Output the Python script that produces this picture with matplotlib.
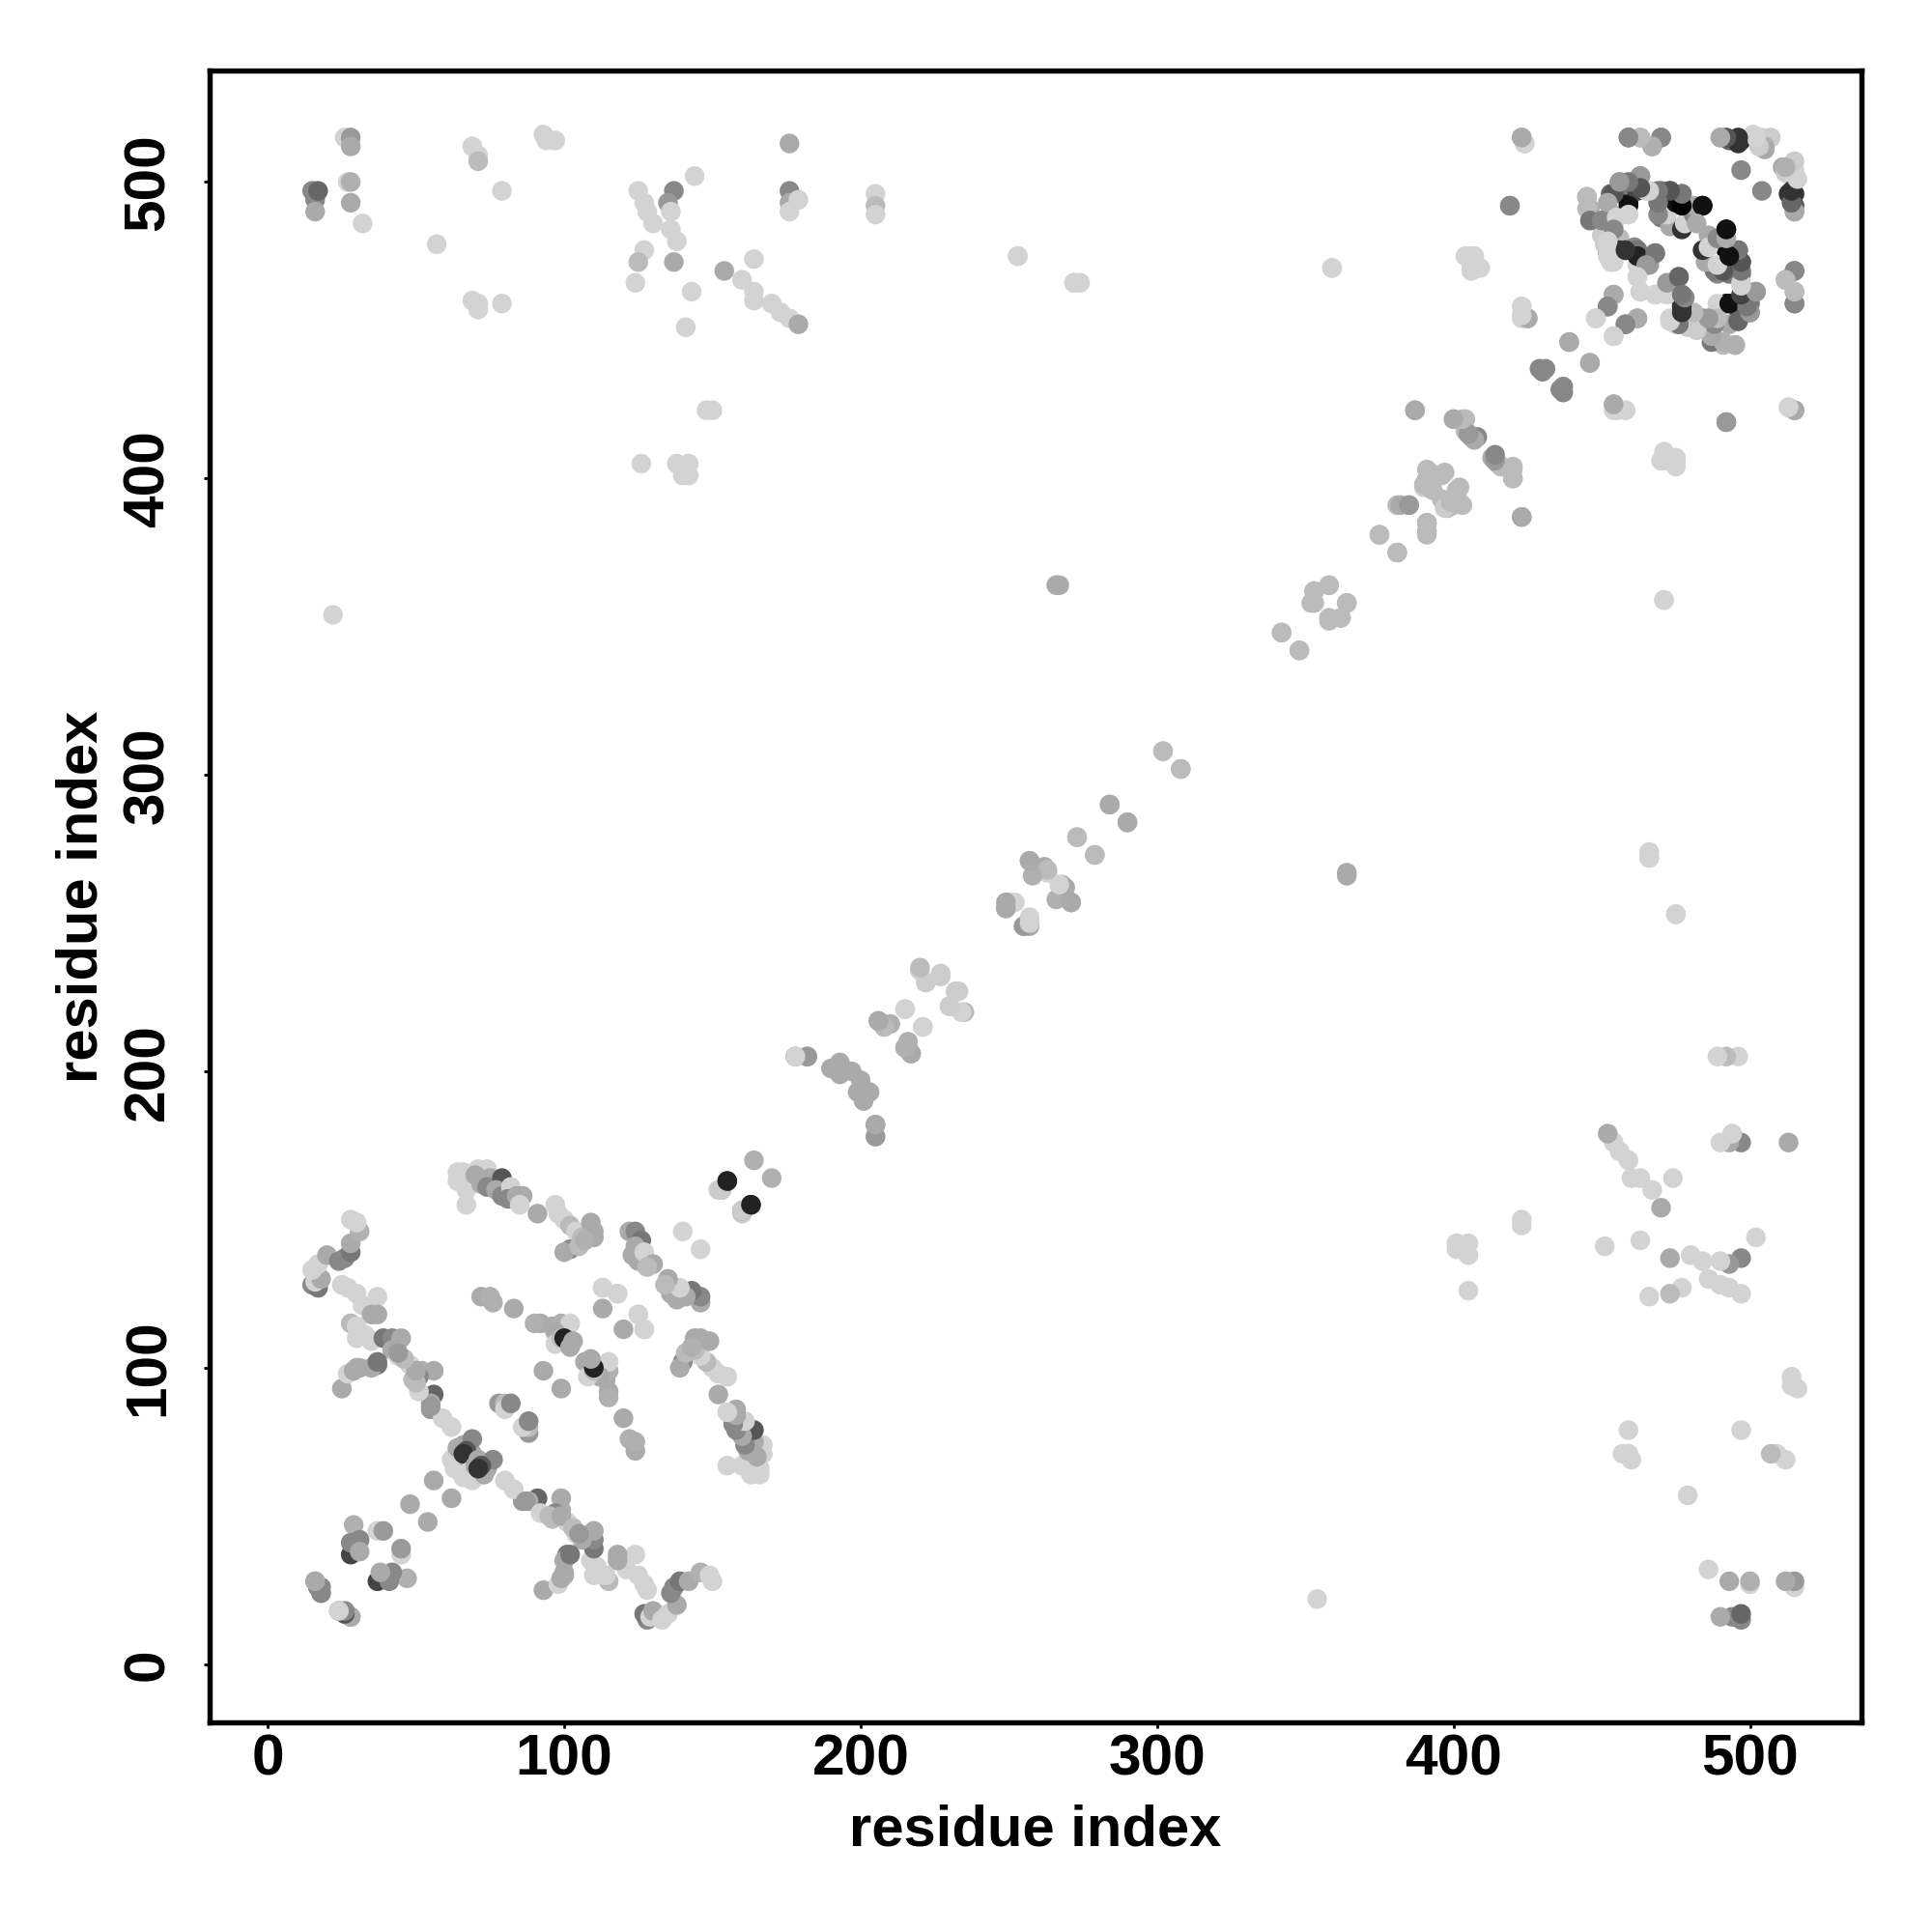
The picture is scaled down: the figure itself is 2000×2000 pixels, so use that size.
import matplotlib
matplotlib.use("Agg")
from matplotlib import pyplot as plt

# contacts as (residue i, residue j, grey level 0-255), i < j, the map is symmetric
far_left = [
    (15, 497, 136), (16, 494, 136), (16, 490, 170), (17, 497, 102), (26, 515, 211), (28, 515, 153),
    (28, 512, 170), (27, 500, 211), (28, 500, 176), (28, 493, 170), (32, 486, 211), (69, 512, 211),
    (71, 509, 211), (71, 507, 187), (79, 497, 211), (57, 479, 211), (69, 460, 211), (71, 459, 211),
    (71, 457, 211), (79, 459, 211), (93, 516, 211), (94, 514, 211), (97, 514, 211), (22, 354, 211),
]
far_mid = [
    (125, 497, 211), (127, 493, 211), (128, 490, 211), (130, 486, 211), (137, 497, 136), (135, 493, 153),
    (136, 490, 211), (144, 502, 211), (136, 484, 211), (138, 480, 211), (137, 473, 170), (127, 477, 211),
    (125, 473, 187), (124, 466, 211), (143, 463, 211), (141, 451, 211), (154, 470, 170), (160, 467, 211),
    (164, 474, 211), (164, 463, 211), (164, 460, 211), (170, 459, 211), (173, 456, 211), (176, 454, 211),
    (179, 452, 170), (176, 513, 170), (176, 497, 136), (176, 493, 170), (176, 490, 211), (179, 494, 211),
    (205, 496, 211), (205, 492, 187), (205, 489, 211), (253, 475, 211), (272, 466, 211), (274, 466, 211),
    (359, 471, 211), (126, 405, 211), (138, 405, 211), (142, 405, 211), (140, 401, 211), (142, 401, 211),
    (148, 423, 211), (150, 423, 211), (266, 364, 170), (267, 364, 170),
]
far_right = [
    (404, 475, 211), (407, 475, 211), (406, 471, 211), (409, 471, 211), (419, 492, 153), (423, 515, 170),
    (424, 513, 211), (423, 458, 211), (423, 454, 211), (425, 454, 170), (387, 423, 170), (454, 425, 170),
    (455, 423, 211), (458, 423, 211), (492, 419, 136), (513, 424, 211), (515, 423, 170), (471, 408, 211),
    (470, 406, 211), (473, 406, 211), (475, 406, 211), (471, 359, 211), (466, 272, 211), (475, 253, 211),
]
sheet_a = [
    (15, 128, 136), (17, 127, 119), (16, 129, 211), (18, 130, 170), (15, 133, 211), (17, 135, 211),
    (20, 138, 170), (24, 136, 136), (26, 137, 136), (28, 139, 119), (28, 142, 170), (31, 146, 176),
    (28, 150, 211), (30, 149, 211),
    (25, 128, 211), (27, 127, 211), (30, 125, 211), (32, 121, 211), (37, 124, 211), (35, 118, 170),
    (37, 118, 170), (28, 115, 187), (30, 114, 211), (30, 110, 211), (33, 111, 211), (35, 109, 211),
    (39, 110, 119), (42, 110, 136), (45, 110, 170), (42, 106, 170), (37, 101, 119), (35, 100, 170),
    (44, 104, 211), (46, 103, 211), (48, 101, 211), (49, 96, 187), (52, 99, 176), (56, 99, 170),
    (51, 97, 136), (25, 93, 170), (27, 98, 211), (29, 99, 170), (31, 100, 170), (56, 91, 102),
    (55, 88, 170), (55, 86, 153), (59, 83, 211), (62, 80, 211),
    (63, 66, 211), (65, 68, 211), (62, 69, 211), (63, 70, 211), (64, 73, 170), (66, 74, 170),
    (67, 70, 170), (69, 71, 170), (69, 76, 136), (67, 72, 85), (66, 71, 51),
]
sheet_b = [
    (55, 87, 153), (56, 62, 170), (48, 54, 170), (29, 47, 176), (28, 37, 68), (28, 41, 136), (31, 42, 136),
    (31, 38, 170), (37, 45, 211), (39, 45, 153), (16, 28, 170), (17, 26, 85), (18, 26, 136), (18, 24, 211),
    (24, 18, 136), (26, 17, 136), (28, 16, 170),
    (51, 92, 211), (50, 95, 187), (50, 99, 170), (46, 103, 187), (44, 105, 153), (37, 102, 119), (30, 100, 170),
    (93, 99, 170), (78, 88, 153), (80, 88, 187), (80, 86, 211), (82, 88, 136), (72, 124, 170), (75, 124, 176),
    (76, 122, 176), (83, 120, 170),
]
sheet_c = [
    (64, 166, 211), (66, 166, 211), (64, 163, 211), (67, 160, 211), (67, 155, 211), (71, 167, 211),
    (74, 167, 211), (70, 165, 170), (72, 162, 170), (75, 164, 170), (74, 161, 136), (79, 164, 85),
    (77, 160, 170), (79, 158, 136), (82, 161, 211), (81, 157, 136), (84, 158, 170), (86, 158, 170),
    (85, 155, 211), (91, 152, 170), (97, 155, 211), (98, 152, 211), (100, 150, 211), (102, 148, 187),
    (104, 146, 211), (106, 144, 187), (109, 149, 170), (110, 146, 170), (110, 144, 170), (102, 140, 136),
    (100, 139, 170), (105, 141, 187), (107, 143, 176),
    (92, 115, 170), (96, 114, 170), (99, 115, 176), (102, 115, 211), (97, 112, 170), (97, 108, 211),
    (99, 110, 187), (100, 110, 34), (103, 109, 170), (107, 102, 170),
    (90, 115, 176), (113, 127, 211), (118, 125, 211), (113, 120, 170), (125, 118, 211), (127, 113, 211),
    (122, 146, 170), (124, 146, 136), (126, 143, 119), (124, 141, 170), (123, 138, 170), (125, 136, 170),
    (127, 139, 211), (130, 135, 170), (128, 134, 187), (140, 146, 211),
]
chain_mid = [
    (153, 160, 136), (153, 160, 204), (155, 163, 34), (160, 152, 204), (163, 155, 34), (164, 170, 176),
    (178, 205, 153), (182, 205, 170), (191, 201, 170), (193, 199, 170), (197, 200, 170), (200, 194, 170),
    (201, 190, 170), (203, 193, 170), (205, 182, 153), (205, 178, 211), (206, 217, 170), (208, 215, 176),
    (210, 216, 176), (215, 221, 211), (221, 215, 211), (215, 208, 187), (217, 206, 170), (220, 234, 211),
    (222, 230, 204), (227, 233, 204), (232, 227, 204), (230, 222, 204), (235, 220, 187), (249, 255, 153),
    (250, 257, 211), (252, 257, 211), (255, 249, 170), (257, 249, 170), (257, 271, 170), (262, 269, 170),
    (263, 267, 211), (268, 263, 187), (266, 258, 176), (271, 257, 170), (273, 279, 187), (279, 273, 187),
    (284, 290, 170), (290, 284, 170), (302, 308, 187), (308, 302, 187),
]
chain_high = [
    (342, 348, 187), (348, 342, 187), (353, 358, 187), (353, 362, 187), (358, 364, 187), (358, 352, 187),
    (362, 353, 187), (364, 358, 187), (375, 381, 187), (381, 375, 187), (381, 391, 187), (385, 391, 187),
    (391, 382, 170), (391, 385, 153), (390, 397, 204), (392, 402, 187), (396, 401, 187), (392, 399, 187),
    (396, 393, 187), (400, 391, 187), (398, 390, 187), (402, 397, 187), (403, 391, 187), (400, 420, 187),
    (404, 420, 187), (404, 416, 187), (406, 414, 153), (408, 414, 136), (413, 407, 170), (415, 405, 153),
    (420, 403, 187), (420, 400, 170), (423, 387, 170), (429, 437, 136), (431, 437, 136), (436, 430, 136),
    (439, 446, 170), (446, 439, 170),
]
ring_top = [
    (459, 515, 136), (463, 515, 187), (470, 515, 136), (467, 512, 187), (490, 515, 170), (493, 514, 102),
    (497, 514, 51), (501, 516, 211), (504, 515, 211), (507, 515, 204), (505, 512, 176), (497, 504, 136),
    (511, 505, 170), (512, 503, 204), (515, 502, 211),
    (454, 462, 170), (452, 458, 136), (448, 454, 211), (462, 454, 170), (458, 452, 136), (454, 448, 211),
    (445, 495, 176), (446, 491, 176), (448, 487, 170), (452, 488, 136), (454, 489, 187), (453, 496, 102),
    (456, 500, 153), (459, 493, 17), (458, 499, 119), (462, 497, 68), (463, 502, 153), (465, 497, 211),
    (450, 482, 204), (451, 479, 204), (452, 476, 119), (454, 486, 153), (456, 481, 187), (453, 473, 211),
    (458, 477, 51), (456, 477, 51), (461, 478, 136), (462, 468, 211), (462, 472, 211), (466, 472, 153),
    (468, 476, 102), (462, 477, 119), (463, 463, 211),
    (470, 497, 119), (473, 497, 85), (477, 496, 119), (470, 488, 119), (470, 491, 85), (473, 485, 170),
    (472, 489, 211), (475, 493, 17), (477, 484, 51), (478, 486, 211), (481, 489, 136), (481, 492, 170),
    (484, 492, 17),
    (492, 484, 17), (486, 482, 170), (492, 477, 0), (496, 477, 119), (497, 473, 85), (489, 469, 136),
    (493, 469, 119), (497, 469, 119), (497, 466, 211), (502, 463, 153), (498, 463, 85), (500, 459, 119),
    (492, 459, 17), (489, 459, 211), (496, 454, 85), (500, 456, 153), (493, 452, 170), (495, 445, 187),
    (491, 445, 187), (487, 446, 119), (487, 450, 136), (488, 455, 211), (484, 454, 136), (480, 452, 211),
    (477, 452, 211), (475, 452, 211), (473, 454, 211), (477, 462, 119), (475, 462, 34), (476, 468, 119),
    (472, 465, 153), (468, 462, 211), (477, 458, 51), (515, 470, 136), (512, 467, 176), (515, 463, 187),
    (515, 459, 136), (515, 496, 51), (513, 496, 51), (515, 492, 85), (515, 490, 170),
]

contacts = far_left + far_mid + far_right + sheet_a + sheet_b + sheet_c + chain_mid + chain_high + ring_top

x_ticks = [0, 100, 200, 300, 400, 500]
y_ticks = [0, 100, 200, 300, 400, 500]

xs = [c[0] for c in contacts] + [c[1] for c in contacts]
ys = [c[1] for c in contacts] + [c[0] for c in contacts]
shades = [str(c[2] / 255) for c in contacts] * 2

plt.rcParams["font.family"] = ["Liberation Sans", "DejaVu Sans"]
plt.rcParams["font.weight"] = "bold"

fig = plt.figure(figsize=(20, 20), dpi=100)
ax = fig.add_axes([217 / 2000, 1 - 1783 / 2000, 1710 / 2000, 1710 / 2000])

ax.scatter(xs, ys, c=shades, s=215, linewidths=0, zorder=2)

ax.set_xlim(-19.6, 537.6)
ax.set_ylim(-19.6, 537.6)
ax.set_xticks(x_ticks)
ax.set_yticks(y_ticks)
ax.tick_params(axis="both", length=4.5, width=2, labelsize=43.5)
ax.tick_params(axis="x", pad=4)
ax.tick_params(axis="y", pad=21)
for lab in ax.get_yticklabels():
    lab.set_rotation(90)
    lab.set_va("center")

for sp in ax.spines.values():
    sp.set_linewidth(3.9)

ax.set_xlabel("residue index", fontsize=43, fontweight="bold", labelpad=13)
ax.set_ylabel("residue index", fontsize=43, fontweight="bold", labelpad=10)

fig.savefig("out.png", dpi=100)
